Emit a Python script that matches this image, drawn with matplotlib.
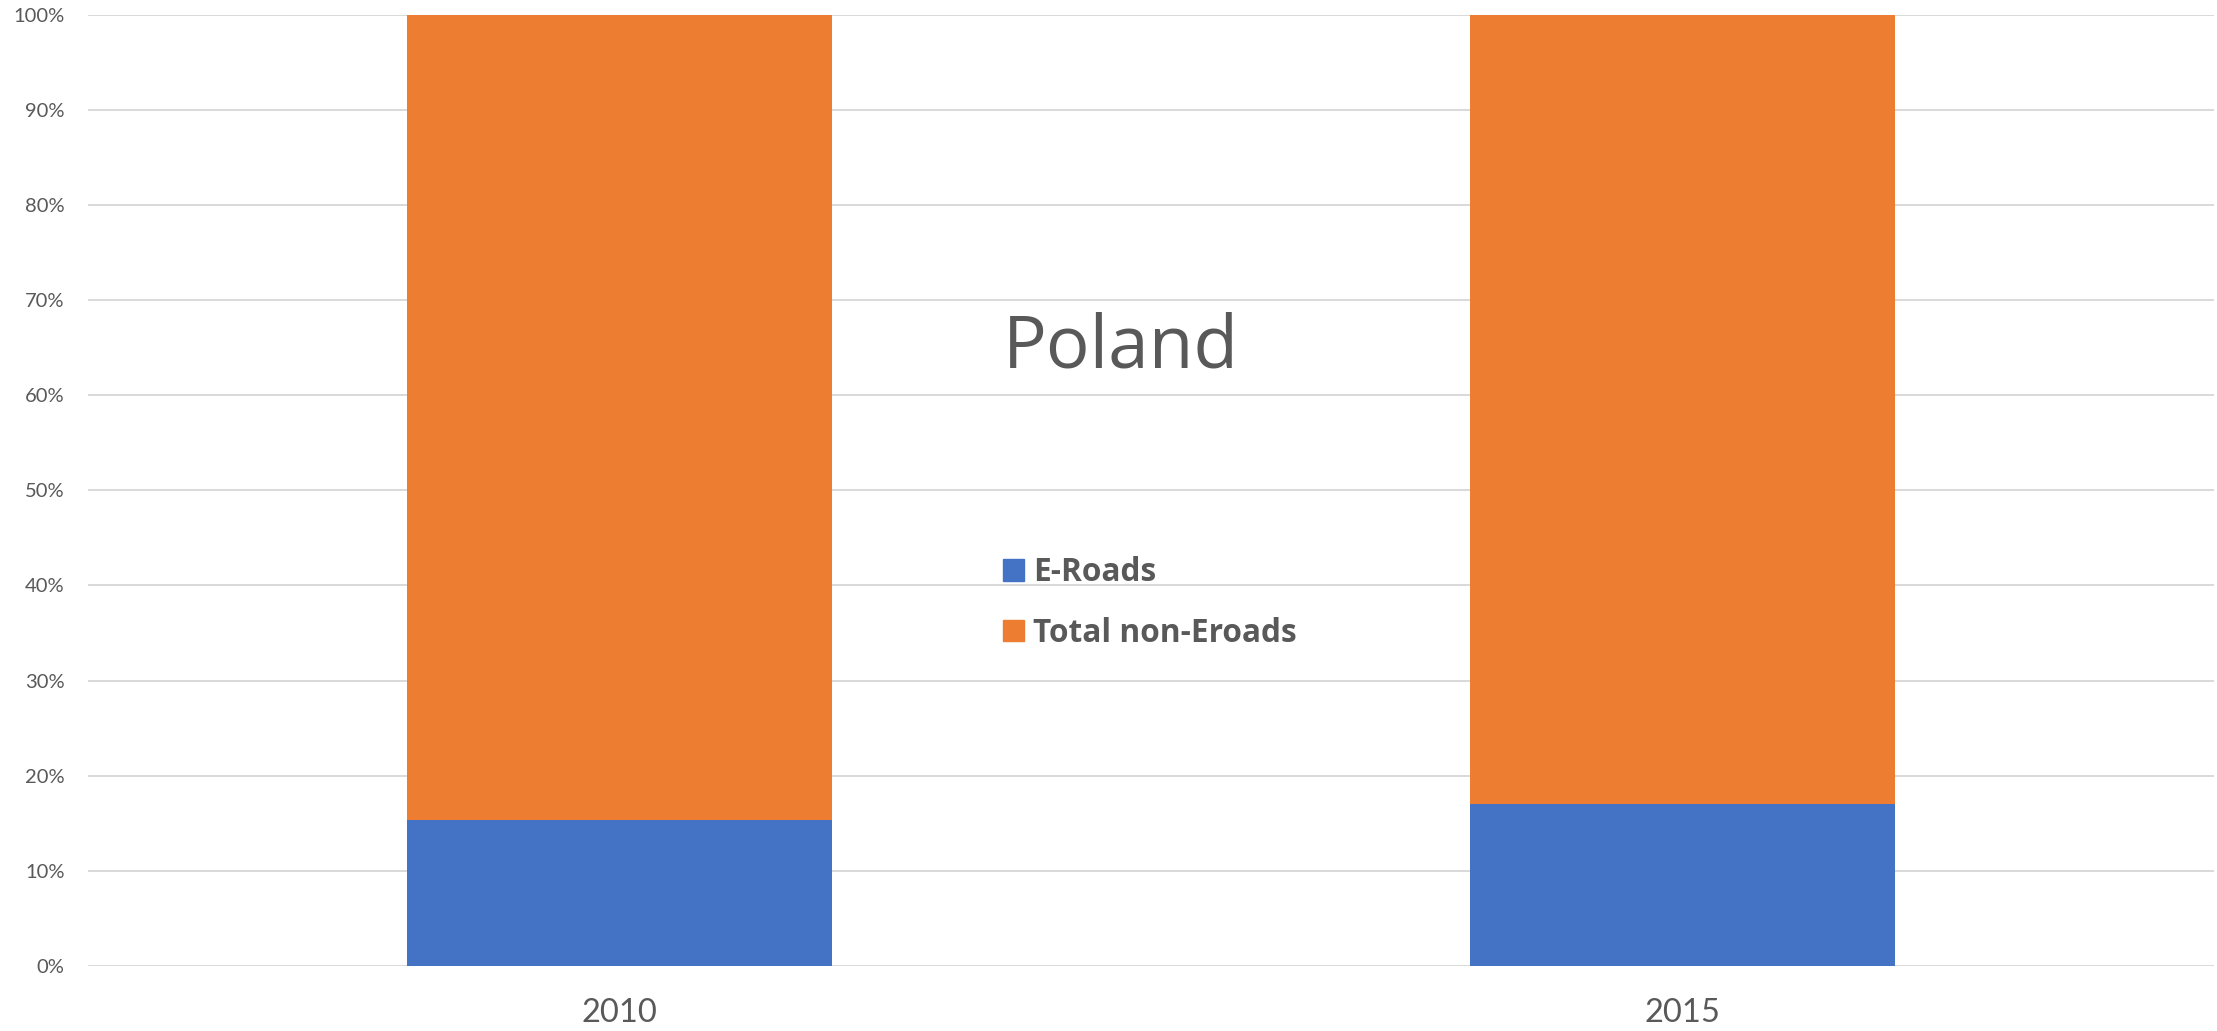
import matplotlib
matplotlib.use("Agg")
import matplotlib.pyplot as plt
from matplotlib.patches import Patch
from matplotlib.ticker import PercentFormatter

# Data (100% stacked shares)
years = ["2010", "2015"]
e_roads = [15.3, 17.0]
non_e_roads = [84.7, 83.0]

BLUE = "#4472C4"
ORANGE = "#ED7D31"
GRID = "#D9D9D9"
TEXT = "#595959"

W, H = 2217, 1031
fig = plt.figure(figsize=(W / 100, H / 100), dpi=100)
ax = fig.add_axes([88 / W, 1 - 966 / H, (2214 - 88) / W, (966 - 14.7) / H])

x = list(range(len(years)))
ax.bar(x, e_roads, width=0.4, color=BLUE, zorder=3)
ax.bar(x, non_e_roads, width=0.4, bottom=e_roads, color=ORANGE, zorder=3)

ax.set_xlim(-0.5, len(years) - 0.5)
ax.set_ylim(0, 100)
ax.set_yticks(range(0, 101, 10))
ax.yaxis.set_major_formatter(PercentFormatter(decimals=0))
ax.set_xticks(x)
ax.set_xticklabels(years)

ax.grid(axis="y", color=GRID, linewidth=1.4, zorder=0)
ax.set_axisbelow(True)
for s in ax.spines.values():
    s.set_visible(False)

ax.tick_params(axis="y", length=0, pad=17, labelsize=14.5, labelcolor=TEXT)
ax.tick_params(axis="x", length=0, pad=23, labelsize=23.5, labelcolor=TEXT)
for lab in ax.get_yticklabels() + ax.get_xticklabels():
    lab.set_fontfamily("Lato")

# Title placed inside the plot, as in the original
fig.text(1003 / W, 1 - 367 / H, "Poland", fontsize=52.5, color=TEXT,
         family="Open Sans", va="baseline", ha="left")

handles = [Patch(color=BLUE, label="E-Roads"),
           Patch(color=ORANGE, label="Total non-Eroads")]
leg = fig.legend(handles=handles, loc="upper left",
                 bbox_to_anchor=(1003 / W, 1 - 556 / H),
                 frameon=False, borderpad=0, borderaxespad=0,
                 handlelength=0.66, handleheight=0.66, handletextpad=0.3,
                 labelspacing=0.88,
                 prop={"family": "Open Sans", "weight": "bold", "size": 22.8})
for t in leg.get_texts():
    t.set_color(TEXT)

fig.savefig("out.png", dpi=100)
